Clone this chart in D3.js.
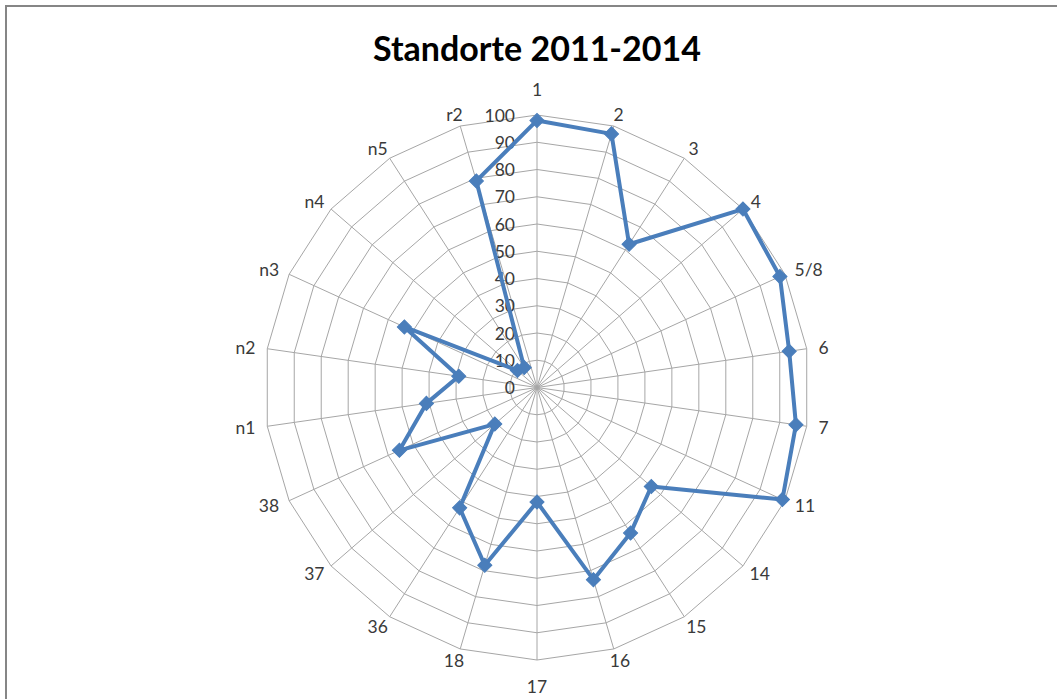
<!DOCTYPE html>
<html><head><meta charset="utf-8">
<script src="https://cdn.jsdelivr.net/npm/d3@7"></script>
<style>body{margin:0;background:#fff;} svg{display:block;}</style>
</head><body>
<svg id="chart" width="1057" height="699"></svg>
<script>
const title = "Standorte 2011-2014";
const categories = ["1","2","3","4","5/8","6","7","11","14","15","16","17","18","36","37","38","n1","n2","n3","n4","n5","r2"];
const values = [98,97,62.5,100,98,93.5,96,99,55.5,63.5,73.5,42,68,52.5,20.5,55.5,41,29,53.5,9.5,8.7,79];
const ticks = [0,10,20,30,40,50,60,70,80,90,100];

const svg = d3.select("#chart");
const W = 1057, H = 699;
const cx = 537, cy = 387.5, R = 272.5;
const lineColor = "#4a7ebb", gridColor = "#a6a6a6", textColor = "#3a3a3a";

svg.append("rect").attr("x",6).attr("y",6).attr("width",W+10).attr("height",H+10)
  .attr("fill","#fff").attr("stroke","#868686").attr("stroke-width",2);

svg.append("text").attr("x",cx).attr("y",47).attr("text-anchor","middle")
  .attr("dominant-baseline","central")
  .attr("font-family","Lato, 'Open Sans', sans-serif").attr("font-weight","bold")
  .attr("font-size",34).attr("fill","#000").text(title);

const r = d3.scaleLinear().domain([0,100]).range([0,R]);
const step = 2*Math.PI/categories.length;
const ang = c => categories.indexOf(c)*step;
const pt = (a, rad) => [cx + rad*Math.sin(a), cy - rad*Math.cos(a)];

const g = svg.append("g");
// rings
ticks.filter(t=>t>0).forEach(t=>{
  const pts = categories.map(c=>pt(ang(c), r(t)));
  g.append("path").attr("d", d3.line()(pts)+"Z").attr("fill","none")
    .attr("stroke",gridColor).attr("stroke-width",1);
});
// spokes
categories.forEach(c=>{
  const [x,y] = pt(ang(c), r(100));
  g.append("line").attr("x1",cx).attr("y1",cy).attr("x2",x).attr("y2",y)
    .attr("stroke",gridColor).attr("stroke-width",1);
});
// tick labels
ticks.forEach(t=>{
  g.append("text").attr("x",cx-22).attr("y",cy - r(t)).attr("text-anchor","end")
    .attr("dominant-baseline","central")
    .attr("font-family","Lato, sans-serif").attr("font-size",17.5).attr("fill",textColor).text(t);
});
// category labels
categories.forEach(c=>{
  const a = ang(c);
  const s = Math.sin(a), co = Math.cos(a);
  const vertical = Math.abs(s) < 0.01;
  const rad = R + (vertical ? 26 : 12);
  const [x,y] = pt(a, rad);
  const t = g.append("text").attr("font-family","Lato, sans-serif").attr("font-size",17.5)
    .attr("fill",textColor).attr("dominant-baseline","central").attr("text-anchor","middle").text(c);
  const bb = t.node().getBBox();
  t.attr("x", x + s*bb.width/2).attr("y", y);
});
// series
const data = categories.map((c,i)=>({c, v: values[i]}));
const line = d3.lineRadial().angle(d=>ang(d.c)).radius(d=>r(d.v)).curve(d3.curveLinearClosed);
g.append("path").attr("transform",`translate(${cx},${cy})`).attr("d", line(data))
  .attr("fill","none").attr("stroke",lineColor).attr("stroke-width",4).attr("stroke-linejoin","round");
const sym = d3.symbol().type(d3.symbolSquare).size(100);
g.selectAll(".m").data(data).join("path")
  .attr("transform", d=>{const [x,y]=pt(ang(d.c), r(d.v)); return `translate(${x},${y}) rotate(45)`;})
  .attr("d", sym).attr("fill",lineColor).attr("stroke",lineColor).attr("stroke-width",1);
</script>
</body></html>
